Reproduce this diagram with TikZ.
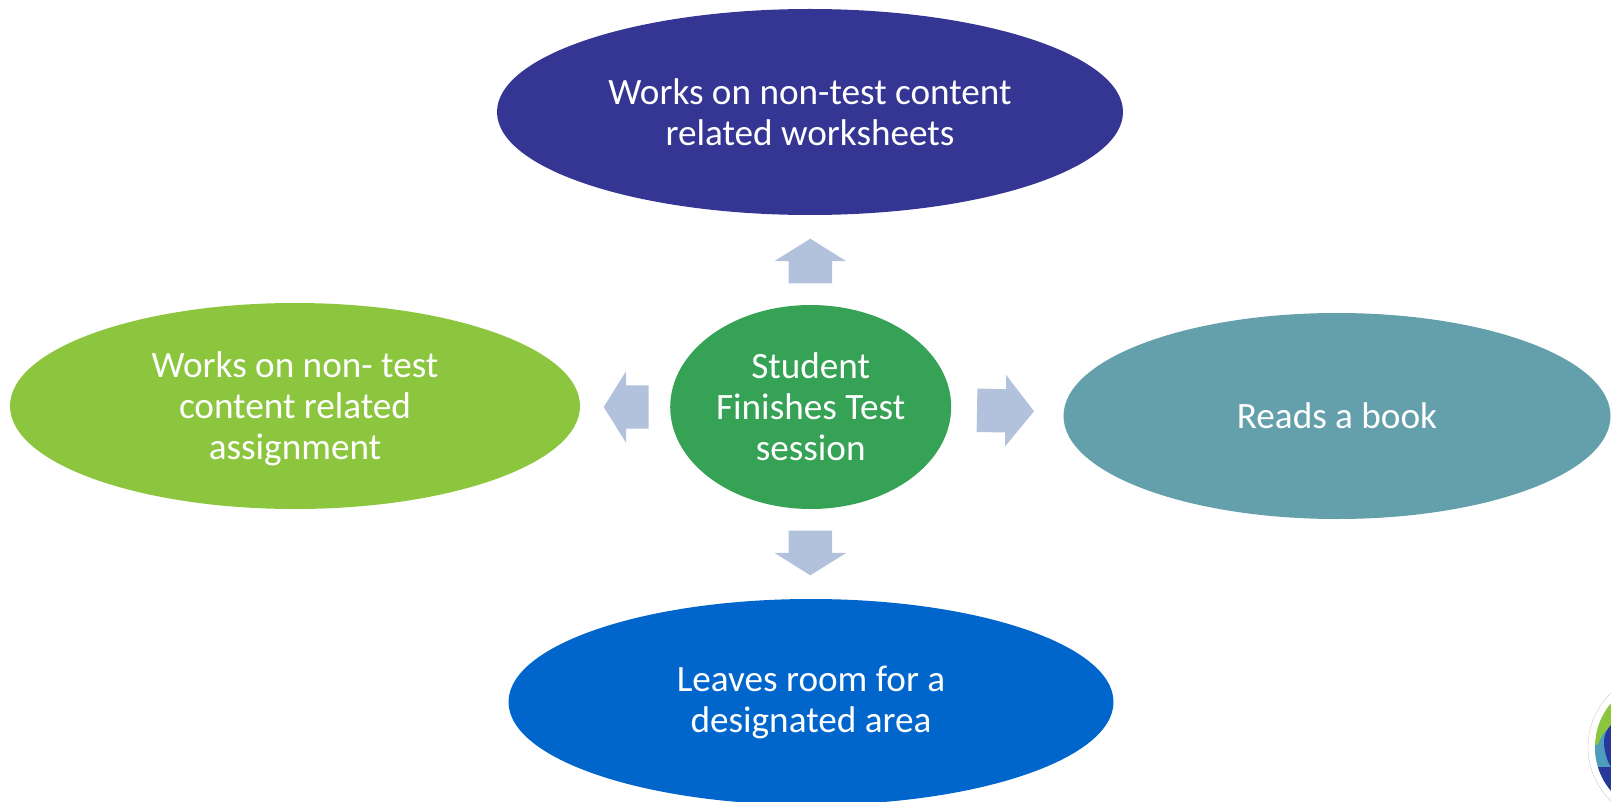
\documentclass[tikz,border=0pt]{standalone}
\usepackage{fontspec}
\setmainfont{Carlito}
\usetikzlibrary{shapes.geometric,shapes.arrows}
\definecolor{topblue}{HTML}{353594}
\definecolor{centregreen}{HTML}{35A256}
\definecolor{limegreen}{HTML}{8CC63F}
\definecolor{tealblue}{HTML}{64A0AB}
\definecolor{roomblue}{HTML}{0066CC}
\definecolor{arrowblue}{HTML}{B2C2DD}
\definecolor{logonavy}{HTML}{28389A}
\definecolor{logoteal}{HTML}{4F9DBE}
\begin{document}
\begin{tikzpicture}
                [x=1pt,y=-1pt,
                bubble/.style={ellipse,inner sep=0pt,outer sep=0pt,align=center,text=white,font=\fontsize{37.2}{41}\selectfont},
                blockarrow/.style={single arrow,fill=arrowblue,inner xsep=0pt,inner ysep=21.5pt,outer sep=0pt,single arrow head extend=14pt,single arrow tip angle=116,anchor=tip}]

                \useasboundingbox (0,0) rectangle (1611,802);

                \node[bubble,fill=topblue,minimum width=626pt,minimum height=206pt] (worksheets) at (810,112) {Works on non-test content\\related worksheets};
                \node[bubble,fill=limegreen,minimum width=570pt,minimum height=206pt] (assignment) at (295,406) {\rule{0pt}{32pt}Works on non- test\\content related\\assignment};
                \node[bubble,fill=centregreen,minimum width=281pt,minimum height=204pt] (finishes) at (810.7,407) {Student\\Finishes Test\\session};
                \node[bubble,fill=tealblue,minimum width=547pt,minimum height=206pt] (book) at (1337,416) {Reads a book};
                \node[bubble,fill=roomblue,minimum width=605pt,minimum height=206pt] (room) at (811,702) {Leaves room for a\\designated area};

                \node[blockarrow,minimum height=44.6pt,rotate=90] (toworksheets) at (810.3,238.7) {};
                \node[blockarrow,minimum height=44.6pt,rotate=-90] (toroom) at (810.3,575.3) {};
                \node[blockarrow,minimum height=45pt,rotate=180] (toassignment) at (603.7,407) {};
                \node[blockarrow,minimum height=57pt,single arrow tip angle=103,rotate=-1] (tobook) at (1034,411.3) {};

                % logo in the corner, cut off by the page
                \begin{scope}
                \clip (0,0) rectangle (1611,802);
                \draw[gray!40,fill=white] (1663,747) circle[radius=75];
                \fill[limegreen] (1663,747) circle[radius=68];
                \begin{scope}
                \clip (1663,747) circle[radius=68];
                \fill[logoteal] (1595,745) -- (1598,745) .. controls (1600,738) and (1604,732) .. (1611,726) -- (1611,802) -- (1595,802) -- cycle;
                \fill[logonavy] (1611,725) .. controls (1604,732) and (1602,742) .. (1606,755) .. controls (1607,760) and (1609,764) .. (1611,767) -- cycle;
                \fill[logonavy] (1597,767) -- (1611,767) -- (1611,802) -- (1597,802) -- cycle;
                \end{scope}
                \end{scope}

            \end{tikzpicture}
\end{document}
